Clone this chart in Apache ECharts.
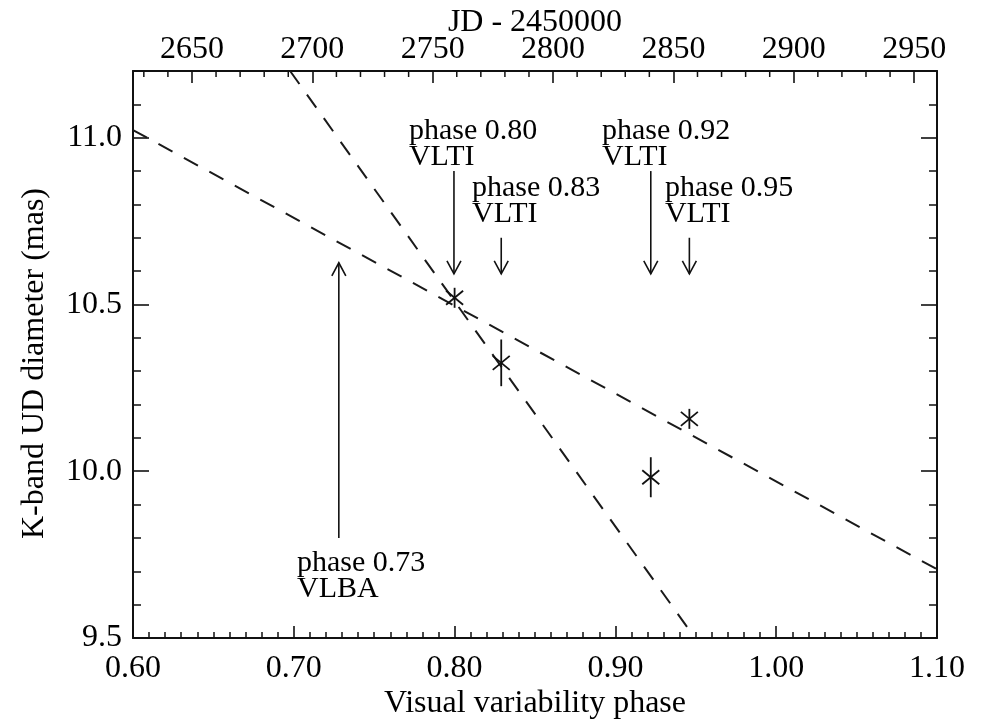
<!DOCTYPE html>
<html>
<head>
<meta charset="utf-8">
<script src="https://cdn.jsdelivr.net/npm/echarts@6/dist/echarts.min.js"></script>
<style>
  html, body { margin: 0; padding: 0; background: #fff; }
  #chart { width: 981px; height: 721px; }
</style>
</head>
<body>
<div id="chart"></div>
<script>
// ---- data ----
const phase = [0.80, 0.829, 0.922, 0.946];
const diameter = [10.52, 10.325, 9.982, 10.157];
const diameterErr = [0.03, 0.07, 0.06, 0.03];

const fitShallow = [[0.60, 11.023], [1.10, 9.706]];
const fitSteep = [[0.6977, 11.2], [0.9495, 9.5]];

const arrowPhase = [0.7996, 0.829, 0.922, 0.946, 0.728];
const arrowFrom = [10.90, 10.70, 10.90, 10.70, 9.80];
const arrowTip = [10.592, 10.592, 10.592, 10.592, 10.625];

const noteText = ['phase 0.80\nVLTI', 'phase 0.83\nVLTI', 'phase 0.92\nVLTI', 'phase 0.95\nVLTI', 'phase 0.73\nVLBA'];
const notePhase = [0.7716, 0.8108, 0.8917, 0.9308, 0.702];
const noteDiam = [11.058, 10.887, 11.058, 10.887, 9.764];

// tick labels / tick values
const jdTicks = [2650, 2700, 2750, 2800, 2850, 2900, 2950];
const jdMinorTicks = [2630, 2640, 2660, 2670, 2680, 2690, 2710, 2720, 2730, 2740,
  2760, 2770, 2780, 2790, 2810, 2820, 2830, 2840, 2860, 2870, 2880, 2890,
  2910, 2920, 2930, 2940];
const diamTicks = [9.5, 10.0, 10.5, 11.0];
const diamMinorTicks = [9.6, 9.7, 9.8, 9.9, 10.1, 10.2, 10.3, 10.4, 10.6, 10.7, 10.8, 10.9, 11.1];

const phaseMin = 0.60, phaseMax = 1.10;
const jdMin = 2625.5, jdMax = 2959.5;
const diamMin = 9.5, diamMax = 11.2;

// ---- chart ----
const FONT = '"Liberation Serif", "Times New Roman", serif';
const INK = '#111';
const chart = echarts.init(document.getElementById('chart'), null, { renderer: 'canvas' });

const baseLabel = { color: '#000', fontFamily: FONT, fontSize: 32 };
const axisLineStyle = { show: true, lineStyle: { color: INK, width: 2 } };
const majorTickStyle = { color: INK, width: 1.6 };
const minorTickStyle = { color: INK, width: 1.5 };

const option = {
  animation: false,
  backgroundColor: '#fff',
  grid: { left: 133, right: 44, top: 71, bottom: 83, containLabel: false, outerBoundsMode: 'none' },
  xAxis: [
    {
      type: 'value', position: 'bottom', min: phaseMin, max: phaseMax, interval: 0.1,
      name: 'Visual variability phase', nameLocation: 'middle', nameGap: 50,
      nameMoveOverlap: false,
      nameTextStyle: Object.assign({}, baseLabel),
      axisLine: axisLineStyle,
      axisTick: { show: true, inside: true, length: 12, lineStyle: majorTickStyle },
      minorTick: { show: true, splitNumber: 10, length: 6, lineStyle: minorTickStyle },
      axisLabel: Object.assign({ margin: 15, formatter: v => v.toFixed(2) }, baseLabel),
      splitLine: { show: false }, minorSplitLine: { show: false }
    },
    {
      type: 'value', position: 'top', min: jdMin, max: jdMax,
      name: 'JD - 2450000', nameLocation: 'middle', nameGap: 32,
      nameMoveOverlap: false,
      nameTextStyle: Object.assign({}, baseLabel),
      axisLine: axisLineStyle,
      axisTick: { show: true, inside: true, length: 12, lineStyle: majorTickStyle, customValues: jdTicks },
      axisLabel: Object.assign({ margin: 5, customValues: jdTicks, formatter: v => String(v) }, baseLabel),
      splitLine: { show: false }
    }
  ],
  yAxis: [
    {
      type: 'value', position: 'left', min: diamMin, max: diamMax,
      name: 'K-band UD diameter (mas)', nameLocation: 'middle', nameGap: 82,
      nameMoveOverlap: false,
      nameTextStyle: Object.assign({ padding: [0, 18, 0, 0] }, baseLabel),
      axisLine: axisLineStyle,
      axisTick: { show: true, inside: true, length: 16, lineStyle: majorTickStyle, customValues: diamTicks },
      axisLabel: Object.assign({ margin: 11, customValues: diamTicks, formatter: v => v.toFixed(1) }, baseLabel),
      splitLine: { show: false }
    },
    {
      type: 'value', position: 'left', min: diamMin, max: diamMax,
      axisLine: { show: false },
      axisTick: { show: true, inside: true, length: 8, lineStyle: minorTickStyle, customValues: diamMinorTicks },
      axisLabel: { show: false }, splitLine: { show: false }
    },
    {
      type: 'value', position: 'right', min: diamMin, max: diamMax,
      axisLine: axisLineStyle,
      axisTick: { show: true, inside: true, length: 16, lineStyle: majorTickStyle, customValues: diamTicks },
      axisLabel: { show: false }, splitLine: { show: false }
    },
    {
      type: 'value', position: 'right', min: diamMin, max: diamMax,
      axisLine: { show: false },
      axisTick: { show: true, inside: true, length: 8, lineStyle: minorTickStyle, customValues: diamMinorTicks },
      axisLabel: { show: false }, splitLine: { show: false }
    }
  ],
  series: [
    {
      // minor ticks of the top JD axis, placed through the JD axis scale
      type: 'custom', name: 'jd minor ticks', silent: true, z: 5,
      xAxisIndex: 1, yAxisIndex: 0, clip: false,
      data: jdMinorTicks.map(v => [v, diamMax]),
      renderItem: function (params, api) {
        const p = api.coord([api.value(0), api.value(1)]);
        return { type: 'line', shape: { x1: p[0], y1: p[1], x2: p[0], y2: p[1] + 6 }, style: { stroke: INK, lineWidth: 1.5 } };
      }
    },
    {
      type: 'line', name: 'fit shallow', data: fitShallow, symbol: 'none', silent: true,
      lineStyle: { color: '#1a1a1a', width: 2, type: [16, 13] }, z: 2
    },
    {
      type: 'line', name: 'fit steep', data: fitSteep, symbol: 'none', silent: true,
      lineStyle: { color: '#1a1a1a', width: 2, type: [16, 13] }, z: 2
    },
    {
      type: 'custom', name: 'diameters', silent: true, z: 3,
      data: phase.map((p, i) => [p, diameter[i], diameterErr[i]]),
      renderItem: function (params, api) {
        const x = api.value(0), y = api.value(1), e = api.value(2);
        const c = api.coord([x, y]);
        const t = api.coord([x, y + e]);
        const b = api.coord([x, y - e]);
        const s = { stroke: INK, lineWidth: 1.8 };
        const arm = 9;
        return {
          type: 'group',
          children: [
            { type: 'line', shape: { x1: c[0], y1: Math.min(t[1], c[1] - arm), x2: c[0], y2: Math.max(b[1], c[1] + arm) }, style: s },
            { type: 'line', shape: { x1: c[0] - 8.5, y1: c[1] - 7, x2: c[0] + 8.5, y2: c[1] + 7 }, style: s },
            { type: 'line', shape: { x1: c[0] - 8.5, y1: c[1] + 7, x2: c[0] + 8.5, y2: c[1] - 7 }, style: s }
          ]
        };
      }
    },
    {
      type: 'custom', name: 'arrows', silent: true, z: 3,
      data: arrowPhase.map((p, i) => [p, arrowFrom[i], arrowTip[i]]),
      renderItem: function (params, api) {
        const x = api.value(0);
        const p0 = api.coord([x, api.value(1)]);
        const p1 = api.coord([x, api.value(2)]);
        const dir = p1[1] > p0[1] ? 1 : -1;
        const s = { stroke: INK, lineWidth: 1.6, fill: 'none' };
        return {
          type: 'group',
          children: [
            { type: 'line', shape: { x1: p0[0], y1: p0[1], x2: p1[0], y2: p1[1] }, style: s },
            { type: 'polyline', shape: { points: [[p1[0] - 7, p1[1] - dir * 13], [p1[0], p1[1]], [p1[0] + 7, p1[1] - dir * 13]] }, style: s }
          ]
        };
      }
    },
    {
      type: 'custom', name: 'notes', silent: true, z: 4,
      data: notePhase.map((p, i) => [p, noteDiam[i]]),
      renderItem: function (params, api) {
        const c = api.coord([api.value(0), api.value(1)]);
        return {
          type: 'text', x: c[0], y: c[1],
          style: {
            text: noteText[params.dataIndex], fill: '#000',
            font: '30px ' + FONT, lineHeight: 26,
            align: 'left', verticalAlign: 'top'
          }
        };
      }
    }
  ]
};
chart.setOption(option);
</script>
</body>
</html>
